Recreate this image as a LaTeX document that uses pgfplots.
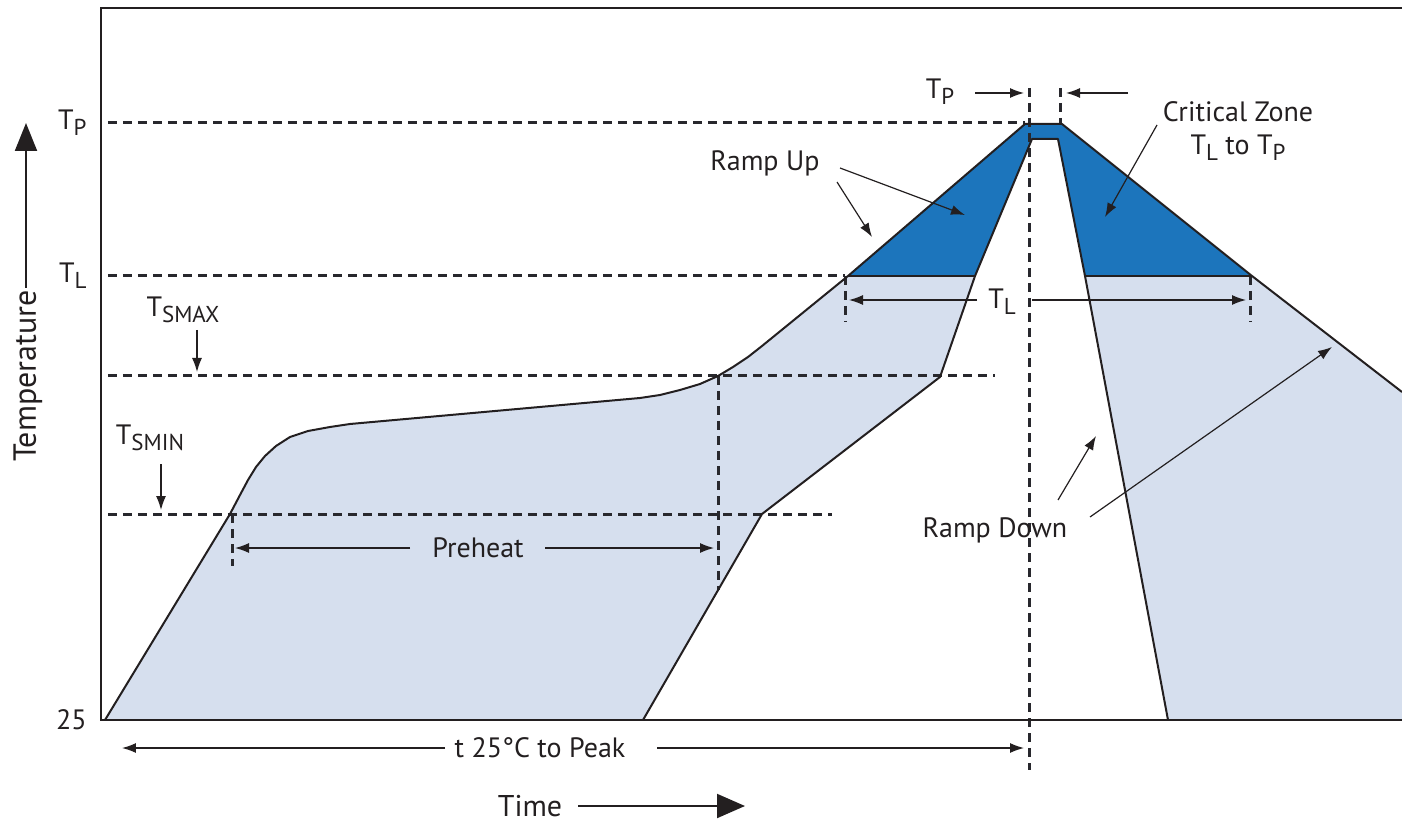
\documentclass[border=0pt]{standalone}
\usepackage{fontspec}
\setmainfont{PT Sans}
\usepackage{pgfplots}
\pgfplotsset{compat=1.18}
\usetikzlibrary{arrows.meta}
\definecolor{darkblue}{RGB}{28,117,188}
\definecolor{lightblue}{RGB}{214,223,238}
\definecolor{ink}{RGB}{35,31,32}
\definecolor{dashink}{RGB}{40,40,45}
\newcommand{\lbl}{\fontsize{14}{16}\selectfont}
\newcommand{\sub}[1]{\raisebox{-0.45ex}{\fontsize{11.5}{12}\selectfont #1}}
\tikzset{
  dashedline/.style={dashink, line width=1.5pt, dash pattern=on 4.5pt off 3pt},
  thinarrow/.style={ink, line width=0.6pt, -{Latex[length=7pt,width=5pt]}},
}

\begin{document}
\begin{tikzpicture}
\begin{axis}[
  scale only axis, width=650.5pt, height=356pt,
  xmin=101, xmax=1402, ymin=8, ymax=720, y dir=reverse,
  axis line style={draw=none},
  xtick=\empty, ytick={123,276,720},
  yticklabels={T\sub{P}, T\sub{L}, 25},
  major tick length=0pt,
  yticklabel style={font=\lbl, text=ink, inner sep=0pt, xshift=-7pt},
  /pgf/number format/assume math mode=true,
  clip=false,
]
\coordinate (bbA) at (axis cs:0,0);
\coordinate (bbB) at (axis cs:1402,823);

% light region (profile envelope)
\addplot[fill=lightblue, draw=none] coordinates {
 (105,720) (230,514) (240,495) (248,480) (256,467) (265,456) (276,446) (290,437)
 (308,431) (330,427) (350,424) (640,398) (660,395) (680,390) (700,384) (718,376)
 (733,367) (748,357) (762,346)
 (848,276) (1025,124) (1062,124) (1252,276) (1402,392) (1402,720) (1168,720)
 (1085,276) (1058,139) (1032,139) (975,276) (940,377) (762,514) (643,720)
} -- cycle;

% critical zone (dark)
\addplot[fill=darkblue, draw=none] coordinates {
 (848,276) (1025,124) (1062,124) (1252,276) (1085,276) (1058,139) (1032,139) (975,276)
} -- cycle;

% dashed reference lines
\draw[dashedline] (axis cs:108,123) -- (axis cs:1025,123);
\draw[dashedline] (axis cs:108,276) -- (axis cs:845,276);
\draw[dashedline] (axis cs:108,376) -- (axis cs:995,376);
\draw[dashedline] (axis cs:108,514) -- (axis cs:832,514);
\draw[dashedline] (axis cs:1029,88) -- (axis cs:1029,770);
\draw[dashedline] (axis cs:1060,88) -- (axis cs:1060,124);
\draw[dashedline] (axis cs:718,376) -- (axis cs:718,590);
\draw[dashedline] (axis cs:232,514) -- (axis cs:232,566);
\draw[dashedline] (axis cs:845,276) -- (axis cs:845,322);
\draw[dashedline] (axis cs:1250,276) -- (axis cs:1250,322);

% outlines
\addplot[ink, line width=1pt, line join=round] coordinates {
 (105,720) (230,514) (240,495) (248,480) (256,467) (265,456) (276,446) (290,437)
 (308,431) (330,427) (350,424) (640,398) (660,395) (680,390) (700,384) (718,376)
 (733,367) (748,357) (762,346)
 (848,276) (1025,124) (1062,124) (1252,276) (1402,392)
};
\addplot[ink, line width=1pt, line join=round] coordinates {
 (643,720) (762,514) (940,377) (975,276) (1032,139) (1058,139) (1085,276) (1168,720)
};
\addplot[ink, line width=0.8pt] coordinates {(848,276) (975,276)};
\addplot[ink, line width=0.8pt] coordinates {(1085,276) (1252,276)};

% frame
\draw[ink, line width=1.3pt] (axis cs:1402,8) -- (axis cs:101,8) -- (axis cs:101,720) -- (axis cs:1402,720);

% arrows
\draw[thinarrow] (axis cs:975,93) -- (axis cs:1024,93);
\draw[thinarrow] (axis cs:1128,93) -- (axis cs:1066,93);
\draw[thinarrow] (axis cs:977,300) -- (axis cs:849,300);
\draw[thinarrow] (axis cs:1032,300) -- (axis cs:1246,300);
\draw[thinarrow] (axis cs:410,548) -- (axis cs:235,548);
\draw[thinarrow] (axis cs:545,548) -- (axis cs:714,548);
\draw[thinarrow] (axis cs:445,748) -- (axis cs:122,748);
\draw[thinarrow] (axis cs:657,748) -- (axis cs:1024,748);
\draw[thinarrow] (axis cs:840,168) -- (axis cs:965,215);
\draw[thinarrow] (axis cs:837,182) -- (axis cs:872,237);
\draw[thinarrow] (axis cs:1157,125) -- (axis cs:1105,217);
\draw[thinarrow] (axis cs:1058,500) -- (axis cs:1096,436);
\draw[thinarrow] (axis cs:1090,517) -- (axis cs:1332,347);
\draw[thinarrow] (axis cs:197,330) -- (axis cs:197,372);
\draw[thinarrow] (axis cs:161,464) -- (axis cs:161,510);
\draw[ink, line width=1pt, -{Triangle[length=14pt,width=11pt]}] (axis cs:26,288) -- (axis cs:26,123);
\draw[ink, line width=1pt, -{Triangle[length=14pt,width=12pt]}] (axis cs:578,806) -- (axis cs:745,806);

% labels
\node[font=\lbl, text=ink] at (axis cs:940,92) {T\sub{P}};
\node[font=\lbl, text=ink] at (axis cs:1002,302) {T\sub{L}};
\node[font=\lbl, text=ink] at (axis cs:765,163) {Ramp Up};
\node[font=\lbl, text=ink] at (axis cs:1238,112) {Critical Zone};
\node[font=\lbl, text=ink] at (axis cs:1238,148) {T\sub{L} to T\sub{P}};
\node[font=\lbl, text=ink] at (axis cs:995,530) {Ramp Down};
\node[font=\lbl, text=ink] at (axis cs:478,548) {Preheat};
\node[font=\lbl, text=ink] at (axis cs:540,748) {t 25\textdegree C to Peak};
\node[font=\lbl, text=ink] at (axis cs:183,310) {T\sub{SMAX}};
\node[font=\lbl, text=ink] at (axis cs:150,438) {T\sub{SMIN}};
\node[font=\fontsize{16}{18}\selectfont, text=ink, rotate=90] at (axis cs:28,376) {Temperature};
\node[font=\fontsize{15}{17}\selectfont, text=ink] at (axis cs:530,806) {Time};
\end{axis}
\pgfresetboundingbox
\path (bbA) rectangle (bbB);
\end{tikzpicture}
\end{document}
